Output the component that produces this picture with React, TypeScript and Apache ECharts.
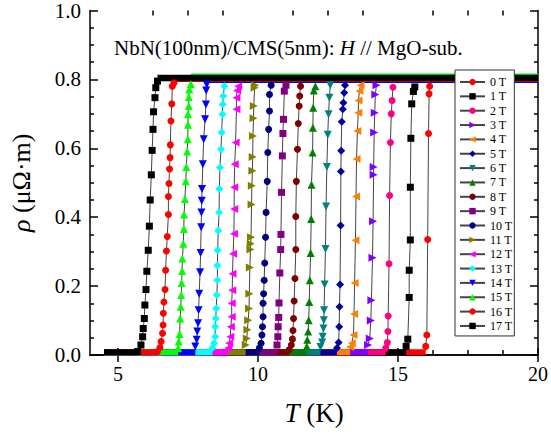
import React, { useEffect, useRef } from "react";
import * as echarts from "echarts";

// ---- data ----
const fields = ["0 T", "1 T", "2 T", "3 T", "4 T", "5 T", "6 T", "7 T", "8 T", "9 T", "10 T", "11 T", "12 T", "13 T", "14 T", "15 T", "16 T", "17 T"];

const tr0: [number, number][] = [[15.99, 0.025], [16.03, 0.058], [16.06, 0.335], [16.09, 0.643], [16.11, 0.758], [16.13, 0.780]];
const tr1: [number, number][] = [[15.29, 0.025], [15.35, 0.046], [15.40, 0.167], [15.40, 0.246], [15.44, 0.334], [15.44, 0.487], [15.46, 0.629], [15.49, 0.729], [15.55, 0.765], [15.60, 0.778]];
const tr2: [number, number][] = [[14.56, 0.020], [14.62, 0.036], [14.64, 0.068], [14.65, 0.113], [14.68, 0.265], [14.70, 0.463], [14.73, 0.617], [14.76, 0.700], [14.79, 0.739], [14.82, 0.777]];
const tr3: [number, number][] = [[13.93, 0.029], [13.99, 0.048], [14.03, 0.100], [14.05, 0.159], [14.09, 0.282], [14.11, 0.388], [14.13, 0.523], [14.13, 0.546], [14.15, 0.646], [14.17, 0.703], [14.19, 0.756], [14.23, 0.783]];
const tr4: [number, number][] = [[13.29, 0.023], [13.35, 0.034], [13.41, 0.058], [13.43, 0.119], [13.45, 0.209], [13.48, 0.333], [13.50, 0.460], [13.52, 0.569], [13.55, 0.650], [13.58, 0.703], [13.59, 0.739], [13.62, 0.766], [13.66, 0.783]];
const tr5: [number, number][] = [[12.82, 0.020], [12.88, 0.036], [12.90, 0.082], [12.91, 0.140], [12.93, 0.205], [12.95, 0.376], [12.96, 0.533], [12.97, 0.593], [12.99, 0.677], [13.03, 0.713], [13.05, 0.732], [13.08, 0.761], [13.11, 0.783]];
const tr6: [number, number][] = [[12.23, 0.023], [12.29, 0.036], [12.31, 0.053], [12.34, 0.077], [12.35, 0.101], [12.36, 0.130], [12.38, 0.205], [12.41, 0.308], [12.43, 0.431], [12.46, 0.546], [12.49, 0.639], [12.52, 0.699], [12.55, 0.747], [12.58, 0.783]];
const tr7: [number, number][] = [[11.74, 0.025], [11.76, 0.044], [11.79, 0.068], [11.81, 0.101], [11.83, 0.154], [11.85, 0.217], [11.88, 0.296], [11.90, 0.395], [11.91, 0.494], [11.95, 0.588], [11.96, 0.660], [11.97, 0.718], [11.99, 0.768], [12.05, 0.780]];
const tr8: [number, number][] = [[11.11, 0.015], [11.19, 0.029], [11.23, 0.046], [11.25, 0.071], [11.27, 0.106], [11.29, 0.157], [11.32, 0.222], [11.35, 0.306], [11.35, 0.402], [11.37, 0.504], [11.41, 0.597], [11.44, 0.672], [11.47, 0.723], [11.49, 0.752], [11.52, 0.780]];
const tr9: [number, number][] = [[10.68, 0.029], [10.71, 0.053], [10.72, 0.082], [10.74, 0.109], [10.75, 0.151], [10.78, 0.238], [10.81, 0.306], [10.82, 0.350], [10.84, 0.472], [10.87, 0.578], [10.89, 0.643], [10.91, 0.684], [10.94, 0.766], [11.00, 0.783]];
const tr10: [number, number][] = [[10.05, 0.020], [10.11, 0.034], [10.14, 0.058], [10.16, 0.082], [10.18, 0.111], [10.18, 0.150], [10.20, 0.178], [10.22, 0.217], [10.24, 0.267], [10.27, 0.342], [10.29, 0.414], [10.33, 0.504], [10.35, 0.588], [10.38, 0.655], [10.41, 0.708], [10.41, 0.756], [10.47, 0.783]];
const tr11: [number, number][] = [[9.56, 0.029], [9.60, 0.048], [9.62, 0.073], [9.65, 0.101], [9.68, 0.135], [9.69, 0.178], [9.71, 0.254], [9.73, 0.306], [9.74, 0.323], [9.75, 0.342], [9.77, 0.437], [9.78, 0.491], [9.80, 0.535], [9.81, 0.575], [9.82, 0.636], [9.84, 0.687], [9.85, 0.723], [9.88, 0.776], [9.90, 0.783]];
const tr12: [number, number][] = [[8.94, 0.020], [8.97, 0.034], [9.01, 0.053], [9.03, 0.082], [9.06, 0.111], [9.06, 0.150], [9.08, 0.188], [9.09, 0.236], [9.11, 0.294], [9.14, 0.352], [9.15, 0.424], [9.15, 0.487], [9.17, 0.554], [9.20, 0.617], [9.23, 0.713], [9.23, 0.747], [9.25, 0.768], [9.29, 0.780]];
const tr13: [number, number][] = [[8.37, 0.020], [8.43, 0.034], [8.47, 0.053], [8.47, 0.082], [8.49, 0.106], [8.51, 0.135], [8.53, 0.174], [8.55, 0.217], [8.55, 0.260], [8.56, 0.304], [8.58, 0.361], [8.61, 0.414], [8.62, 0.482], [8.64, 0.544], [8.68, 0.597], [8.70, 0.646], [8.73, 0.699], [8.74, 0.727], [8.76, 0.752], [8.80, 0.780]];
const tr14: [number, number][] = [[7.76, 0.025], [7.81, 0.044], [7.83, 0.068], [7.86, 0.092], [7.88, 0.130], [7.90, 0.178], [7.93, 0.240], [7.95, 0.296], [7.97, 0.371], [7.98, 0.414], [7.99, 0.448], [8.00, 0.482], [8.03, 0.554], [8.06, 0.626], [8.11, 0.684], [8.14, 0.727], [8.15, 0.768], [8.17, 0.785]];
const tr15: [number, number][] = [[7.15, 0.020], [7.17, 0.039], [7.20, 0.061], [7.22, 0.106], [7.24, 0.140], [7.26, 0.174], [7.27, 0.209], [7.29, 0.244], [7.30, 0.280], [7.33, 0.323], [7.35, 0.366], [7.36, 0.408], [7.39, 0.453], [7.42, 0.504], [7.44, 0.546], [7.47, 0.591], [7.49, 0.626], [7.50, 0.668], [7.50, 0.699], [7.53, 0.723], [7.53, 0.749], [7.55, 0.771], [7.60, 0.787]];
const tr16: [number, number][] = [[6.41, 0.010], [6.50, 0.022], [6.54, 0.039], [6.59, 0.063], [6.61, 0.087], [6.62, 0.121], [6.64, 0.154], [6.68, 0.190], [6.70, 0.246], [6.73, 0.302], [6.76, 0.344], [6.80, 0.408], [6.80, 0.460], [6.82, 0.498], [6.84, 0.540], [6.86, 0.573], [6.87, 0.610], [6.89, 0.679], [6.92, 0.729], [6.94, 0.780], [7.00, 0.790]];
const tr17: [number, number][] = [[5.70, 0.010], [5.82, 0.029], [5.88, 0.053], [5.90, 0.077], [5.94, 0.106], [5.96, 0.145], [6.00, 0.190], [6.03, 0.243], [6.08, 0.304], [6.12, 0.374], [6.15, 0.450], [6.19, 0.523], [6.22, 0.594], [6.25, 0.655], [6.27, 0.706], [6.32, 0.747], [6.35, 0.776], [6.41, 0.795]];

const transitions = [tr0, tr1, tr2, tr3, tr4, tr5, tr6, tr7, tr8, tr9, tr10, tr11, tr12, tr13, tr14, tr15, tr16, tr17];

// normal-state (plateau) resistivity of each field, up to 20 K
const normalRho = [0.802, 0.802, 0.802, 0.802, 0.802, 0.802, 0.802, 0.802, 0.802, 0.802, 0.802, 0.802, 0.802, 0.802, 0.799, 0.808, 0.802, 0.804];
const zeroRho = 0.008;
const lowStartT = 4.5;
const highEndT = 20;

const xMajorTicks = [5, 10, 15, 20];
const xMinorTicks = [6.25, 7.5, 8.75, 11.25, 12.5, 13.75, 16.25, 17.5, 18.75];

// ---- styles ----
const colors = ["#ff0000", "#000000", "#ff0080", "#8000ff", "#ff8000", "#0000a0", "#008080", "#008000", "#800000", "#800080", "#000080", "#808000", "#ff00ff", "#00ffff", "#0000ff", "#00ff00", "#ff0000", "#000000"];
const symbols = ["circle", "rect", "circle", "triangle", "triangle", "diamond", "triangle", "triangle", "circle", "rect", "circle", "triangle", "triangle", "diamond", "triangle", "triangle", "circle", "rect"];
const rotations = [0, 0, 0, -90, 90, 0, 180, 0, 0, 0, 0, -90, 90, 0, 180, 0, 0, 0];

const FONT = "'Liberation Serif', 'Times New Roman', serif";

export default function App() {
  const ref = useRef<HTMLDivElement>(null);

  useEffect(() => {
    if (!ref.current) return;
    const chart = echarts.init(ref.current, undefined, { renderer: "svg" });

    const series: any[] = [];
    transitions.forEach((tr, i) => {
      const first = tr[0];
      const last = tr[tr.length - 1];
      const size = symbols[i] === "triangle" ? 8 : symbols[i] === "diamond" ? 8 : 7;
      series.push({
        type: "line",
        silent: true,
        showSymbol: false,
        data: [[lowStartT, zeroRho], [first[0], zeroRho]],
        lineStyle: { color: colors[i], width: 6 },
      });
      series.push({
        type: "line",
        silent: true,
        showSymbol: false,
        data: [[last[0], normalRho[i]], [highEndT, normalRho[i]]],
        lineStyle: { color: colors[i], width: 6.5 },
      });
      series.push({
        type: "line",
        name: fields[i],
        data: tr,
        symbol: symbols[i],
        symbolSize: size,
        symbolRotate: rotations[i],
        showAllSymbol: true,
        itemStyle: { color: colors[i] },
        lineStyle: { color: "#444", width: 1 },
      });
    });

    const axisLine = { show: true, lineStyle: { color: "#000", width: 1.5 } };

    chart.setOption({
      animation: false,
      backgroundColor: "#fff",
      grid: { left: 87, right: 11, top: 9, bottom: 81, containLabel: false },
      legend: {
        data: fields,
        orient: "vertical",
        left: 455,
        top: 70,
        itemWidth: 25,
        itemHeight: 8,
        itemGap: 2.35,
        padding: [6, 2, 4, 4],
        borderColor: "#333",
        borderWidth: 1,
        backgroundColor: "#fff",
        textStyle: { fontFamily: FONT, fontSize: 12, color: "#000" },
      },
      xAxis: [
        {
          type: "value",
          min: 4,
          max: 20,
          position: "bottom",
          axisLine,
          axisTick: { show: true, inside: true, length: 7, customValues: xMajorTicks, lineStyle: { color: "#000", width: 1.5 } },
          axisLabel: { customValues: xMajorTicks, fontFamily: FONT, fontSize: 20, color: "#000", margin: 9 },
          splitLine: { show: false },
          name: "{i|T} (K)",
          nameLocation: "middle",
          nameGap: 44,
          nameTextStyle: {
            fontFamily: FONT,
            fontSize: 27,
            color: "#000",
            rich: { i: { fontFamily: FONT, fontSize: 27, fontStyle: "italic", color: "#000" } },
          },
        },
        {
          type: "value",
          min: 4,
          max: 20,
          position: "top",
          axisLine,
          axisTick: { show: true, inside: true, length: 7, customValues: xMajorTicks, lineStyle: { color: "#000", width: 1.5 } },
          axisLabel: { show: false },
          splitLine: { show: false },
        },
        {
          type: "value",
          min: 4,
          max: 20,
          position: "bottom",
          axisLine: { show: false },
          axisTick: { show: true, inside: true, length: 5, customValues: xMinorTicks, lineStyle: { color: "#000", width: 1.5 } },
          axisLabel: { show: false },
          splitLine: { show: false },
        },
        {
          type: "value",
          min: 4,
          max: 20,
          position: "top",
          axisLine: { show: false },
          axisTick: { show: true, inside: true, length: 5, customValues: xMinorTicks, lineStyle: { color: "#000", width: 1.5 } },
          axisLabel: { show: false },
          splitLine: { show: false },
        },
      ],
      yAxis: [
        {
          type: "value",
          min: 0,
          max: 1,
          interval: 0.2,
          position: "left",
          axisLine,
          axisTick: { show: true, inside: true, length: 8, lineStyle: { color: "#000", width: 1.5 } },
          minorTick: { show: true, splitNumber: 4, length: 4, lineStyle: { color: "#000", width: 1.5 } },
          axisLabel: { fontFamily: FONT, fontSize: 21, color: "#000", margin: 9, formatter: (v: number) => v.toFixed(1) },
          splitLine: { show: false },
          name: "{i|ρ} (μΩ·m)",
          nameLocation: "middle",
          nameGap: 56,
          nameTextStyle: {
            fontFamily: FONT,
            fontSize: 26,
            color: "#000",
            rich: { i: { fontFamily: FONT, fontSize: 26, fontStyle: "italic", color: "#000" } },
          },
        },
        {
          type: "value",
          min: 0,
          max: 1,
          interval: 0.2,
          position: "right",
          axisLine,
          axisTick: { show: true, inside: true, length: 8, lineStyle: { color: "#000", width: 1.5 } },
          minorTick: { show: true, splitNumber: 4, length: 4, lineStyle: { color: "#000", width: 1.5 } },
          axisLabel: { show: false },
          splitLine: { show: false },
        },
      ],
      graphic: [
        {
          type: "text",
          left: 114,
          top: 37,
          style: {
            text: "{a|NbN(100nm)/CMS(5nm): }{b|H}{a| // MgO-sub.}",
            rich: {
              a: { fontFamily: FONT, fontSize: 21, fill: "#000" },
              b: { fontFamily: FONT, fontSize: 21, fontStyle: "italic", fill: "#000" },
            },
          },
        },
      ],
      series,
    });

    return () => chart.dispose();
  }, []);

  return (
    <div
      ref={ref}
      style={{ position: "fixed", left: 0, top: 0, width: 551, height: 436, background: "#fff" }}
    />
  );
}
